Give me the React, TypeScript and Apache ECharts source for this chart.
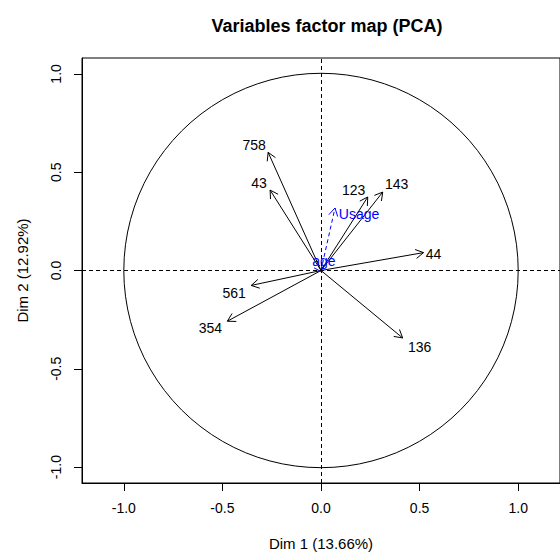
import React, { useEffect, useRef } from "react";
import * as echarts from "echarts";

// Active variables (coordinates on Dim 1 / Dim 2)
const varNames = ["758", "43", "123", "143", "44", "561", "354", "136"];
const varDim1 = [-0.268, -0.258, 0.237, 0.313, 0.52, -0.354, -0.475, 0.414];
const varDim2 = [0.601, 0.409, 0.374, 0.399, 0.091, -0.076, -0.258, -0.343];

// Supplementary variables
const supNames = ["Usage", "age"];
const supDim1 = [0.071, 0.005];
const supDim2 = [0.318, -0.008];

// Tick labels
const tickValues = [-1, -0.5, 0, 0.5, 1];

const titleText = "Variables factor map (PCA)";
const xName = "Dim 1 (13.66%)";
const yName = "Dim 2 (12.92%)";

// label offsets (pixels) for each arrow label — styling only
const varLabelOffsets: [number, number][] = [
  [-14, -7.5],
  [-11, -7],
  [-14, -7],
  [14, -8],
  [10, 1],
  [-17, 8],
  [-17, 7],
  [17, 9],
];
const supLabelOffsets: [number, number][] = [
  [24, 6],
  [2, -11],
];

const FONT = '"Liberation Sans", Arial, Helvetica, sans-serif';

function arrowRenderer(
  names: string[],
  offsets: [number, number][],
  color: string,
  dashed: boolean
) {
  return (params: any, api: any) => {
    const x = api.value(0);
    const y = api.value(1);
    const s = api.coord([0, 0]);
    const e = api.coord([x, y]);
    const ang = Math.atan2(e[1] - s[1], e[0] - s[0]);
    const L = 9;
    const a = Math.PI / 6;
    const p1 = [e[0] - L * Math.cos(ang - a), e[1] - L * Math.sin(ang - a)];
    const p2 = [e[0] - L * Math.cos(ang + a), e[1] - L * Math.sin(ang + a)];
    const off = offsets[params.dataIndex];
    return {
      type: "group",
      children: [
        {
          type: "line",
          shape: { x1: s[0], y1: s[1], x2: e[0], y2: e[1] },
          style: {
            stroke: color,
            lineWidth: 1,
            lineDash: dashed ? [4, 3] : null,
          },
        },
        {
          type: "polyline",
          shape: { points: [p1, e, p2] },
          style: { stroke: color, lineWidth: 1, fill: null },
        },
        {
          type: "text",
          style: {
            text: names[params.dataIndex],
            x: e[0] + off[0],
            y: e[1] + off[1],
            fill: color,
            fontSize: 14,
            fontFamily: FONT,
            align: "center",
            verticalAlign: "middle",
          },
        },
      ],
    };
  };
}

export default function App() {
  const ref = useRef<HTMLDivElement>(null);

  useEffect(() => {
    if (!ref.current) return;
    const chart = echarts.init(ref.current, null, { renderer: "svg" });

    const axisCommon = {
      type: "value",
      splitLine: { show: false },
      axisLine: { show: true, onZero: false, lineStyle: { color: "#000", width: 1 } },
      axisTick: {
        show: true,
        inside: false,
        length: 8,
        customValues: tickValues,
        lineStyle: { color: "#000", width: 1 },
      },
      nameLocation: "middle",
      nameTextStyle: { fontSize: 15, fontFamily: FONT, color: "#000" },
    };

    chart.setOption({
      animation: false,
      backgroundColor: "#fff",
      title: {
        text: titleText,
        left: 322,
        top: 12,
        textAlign: "center",
        textStyle: { fontSize: 18, fontWeight: "bold", fontFamily: FONT, color: "#000" },
      },
      grid: {
        left: 82,
        top: 58,
        width: 480,
        height: 428,
        show: true,
        borderColor: "#000",
        borderWidth: 1,
        backgroundColor: "transparent",
      },
      xAxis: {
        ...axisCommon,
        min: -1.212,
        max: 1.212,
        name: xName,
        nameGap: 53,
        axisLabel: {
          customValues: tickValues,
          formatter: (v: number) => v.toFixed(1),
          margin: 18,
          fontSize: 14,
          fontFamily: FONT,
          color: "#000",
        },
      },
      yAxis: {
        ...axisCommon,
        min: -1.081,
        max: 1.081,
        name: yName,
        nameGap: 52,
        axisLabel: {
          customValues: tickValues,
          formatter: (v: number) => v.toFixed(1),
          margin: 19,
          rotate: 90,
          fontSize: 14,
          fontFamily: FONT,
          color: "#000",
        },
      },
      series: [
        {
          type: "custom",
          name: "circle",
          data: [[0, 0]],
          z: 1,
          renderItem: (params: any, api: any) => {
            const c = api.coord([0, 0]);
            const sz = api.size([1, 1]);
            return {
              type: "circle",
              shape: { cx: c[0], cy: c[1], r: sz[0] },
              style: { fill: null, stroke: "#000", lineWidth: 1 },
            };
          },
        },
        {
          type: "line",
          name: "refLines",
          data: [],
          z: 2,
          markLine: {
            silent: true,
            symbol: ["none", "none"],
            label: { show: false },
            lineStyle: { color: "#000", type: [4, 3], width: 1 },
            data: [{ xAxis: 0 }, { yAxis: 0 }],
          },
        },
        {
          type: "custom",
          name: "variables",
          z: 3,
          data: varNames.map((_, i) => [varDim1[i], varDim2[i]]),
          renderItem: arrowRenderer(varNames, varLabelOffsets, "#000", false),
        },
        {
          type: "custom",
          name: "supplementary",
          z: 4,
          data: supNames.map((_, i) => [supDim1[i], supDim2[i]]),
          renderItem: arrowRenderer(supNames, supLabelOffsets, "#0000FF", true),
        },
      ],
    });

    return () => chart.dispose();
  }, []);

  return (
    <div
      ref={ref}
      style={{ position: "absolute", left: 0, top: 0, width: 560, height: 556 }}
    />
  );
}
